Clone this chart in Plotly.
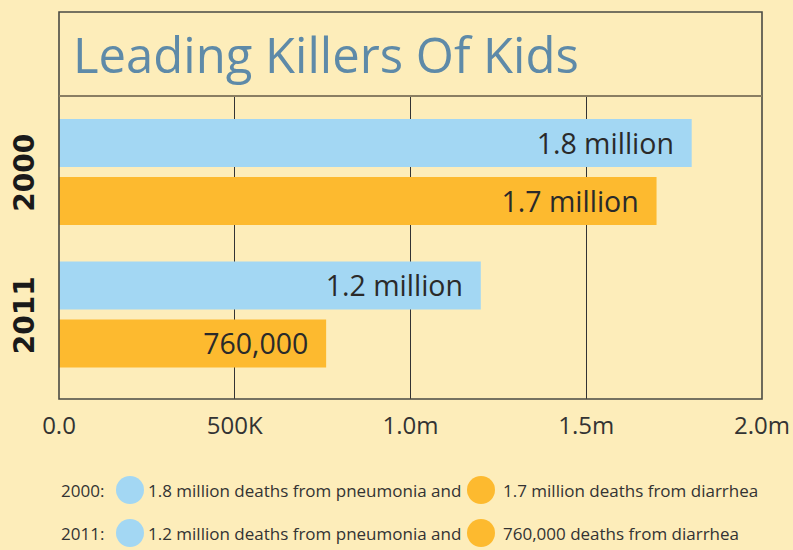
import plotly.graph_objects as go

years = ["2000", "2011"]
pneumonia = [1800000, 1200000]
diarrhea = [1700000, 760000]
pneumonia_text = ["1.8 million", "1.2 million"]
diarrhea_text = ["1.7 million", "760,000"]
tick_vals = [0, 500000, 1000000, 1500000, 2000000]
tick_text = ["0.0", "500K", "1.0m", "1.5m", "2.0m"]
legend_rows = [
    ("2000:", "1.8 million deaths from pneumonia and", "1.7 million deaths from diarrhea"),
    ("2011:", "1.2 million deaths from pneumonia and", "760,000 deaths from diarrhea"),
]

BG = "#FDEDBA"
BLUE = "#A3D7F3"
ORANGE = "#FDBA2F"
NBSP = "\u00a0"

fig = go.Figure()
fig.add_trace(go.Bar(
    y=years, x=pneumonia, orientation="h", marker=dict(color=BLUE, line=dict(width=0)),
    text=[t + NBSP * 2 for t in pneumonia_text], textposition="inside", insidetextanchor="end",
    textfont=dict(family="Open Sans", size=28.5, color="#2a2a2a"), constraintext="none",
    hoverinfo="skip", cliponaxis=False,
))
fig.add_trace(go.Bar(
    y=years, x=diarrhea, orientation="h", marker=dict(color=ORANGE, line=dict(width=0)),
    text=[t + NBSP * 2 for t in diarrhea_text], textposition="inside", insidetextanchor="end",
    textfont=dict(family="Open Sans", size=28.5, color="#2a2a2a"), constraintext="none",
    hoverinfo="skip", cliponaxis=False,
))

W, H = 793, 550
ml, mr, mt, mb = 59, 31, 96, 151
ph = H - mt - mb
pw = W - ml - mr

fig.update_layout(
    width=W, height=H,
    margin=dict(l=ml, r=mr, t=mt, b=mb, pad=0, autoexpand=False),
    paper_bgcolor=BG, plot_bgcolor=BG,
    barmode="group", bargap=0.186, bargroupgap=0.172,
    showlegend=False,
    font=dict(family="Open Sans", color="#333333"),
    xaxis=dict(
        range=[0, 2000000], tickvals=tick_vals, ticktext=tick_text,
        showgrid=True, gridcolor="#333333", gridwidth=1,
        zeroline=False, showline=False, ticks="", automargin=False,
        tickfont=dict(family="Open Sans", size=24, color="#333333"),
        ticklabelstandoff=10, fixedrange=True,
    ),
    yaxis=dict(
        type="category", range=[1.593, -0.533],
        tickangle=-90, ticks="", showgrid=False, zeroline=False, showline=False,
        automargin=False,
        tickfont=dict(family="DejaVu Sans", size=28, color="#1a1a1a", weight="bold"),
        ticklabelstandoff=18, ticklabelshift=-5, fixedrange=True,
    ),
)

top_paper = 1 + (mt - 12) / ph
# frame
fig.add_shape(type="rect", xref="paper", yref="paper", x0=0, x1=1, y0=0, y1=top_paper,
              line=dict(color="#4a4a44", width=1.6), layer="above")
fig.add_shape(type="line", xref="paper", yref="paper", x0=0, x1=1, y0=1, y1=1,
              line=dict(color="#8a7e62", width=2), layer="above")

fig.add_annotation(
    text="Leading Killers Of Kids", xref="paper", yref="paper",
    x=(71 - ml) / pw, y=1 + (96 - 54) / ph,
    xanchor="left", yanchor="middle", showarrow=False,
    font=dict(family="Open Sans", size=49, color="#5E8AA8"),
)

# custom legend
row_y = [490, 533]
for (yr, t1, t2), py in zip(legend_rows, row_y):
    yp = (H - mb - py) / ph
    fig.add_annotation(text=yr, xref="paper", yref="paper", x=(106 - ml) / pw, y=yp,
                       xanchor="right", yanchor="middle", showarrow=False,
                       font=dict(family="Open Sans", size=17, color="#333333"))
    for cx, col in [(130, BLUE), (481, ORANGE)]:
        fig.add_shape(type="circle", xref="paper", yref="paper",
                      xsizemode="pixel", ysizemode="pixel",
                      xanchor=(cx - ml) / pw, yanchor=yp,
                      x0=-14, x1=14, y0=-14, y1=14,
                      fillcolor=col, line=dict(width=0))
    fig.add_annotation(text=t1, xref="paper", yref="paper", x=(146 - ml) / pw, y=yp,
                       xanchor="left", yanchor="middle", showarrow=False,
                       font=dict(family="Open Sans", size=17, color="#333333"))
    fig.add_annotation(text=t2, xref="paper", yref="paper", x=(501 - ml) / pw, y=yp,
                       xanchor="left", yanchor="middle", showarrow=False,
                       font=dict(family="Open Sans", size=17, color="#333333"))

fig.write_html(
    "out.html",
    config=dict(displayModeBar=False),
    post_script="document.body.style.margin='0';document.body.style.overflow='hidden';",
)
